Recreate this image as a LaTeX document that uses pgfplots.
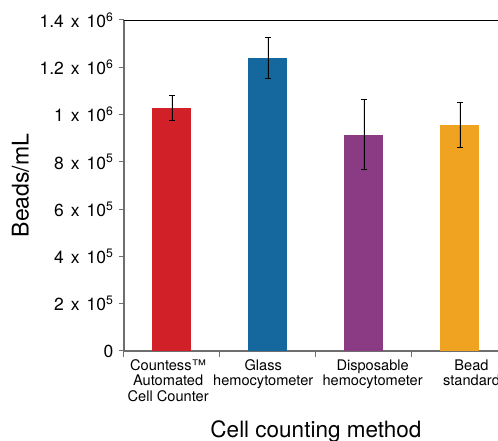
\documentclass[border=0pt]{standalone}
\usepackage{fontspec}
\setmainfont{TeX Gyre Heros}
\usepackage{pgfplots}
\pgfplotsset{compat=1.18}
\definecolor{cRed}{RGB}{209,32,39}
\definecolor{cBlue}{RGB}{20,104,157}
\definecolor{cPurple}{RGB}{139,59,131}
\definecolor{cOrange}{RGB}{240,162,33}
\definecolor{axgray}{RGB}{110,110,110}
\newcommand{\ytl}[2]{\mbox{#1\hspace{0.4em}x\hspace{0.4em}10\textsuperscript{#2}}}

\begin{document}
\begin{tikzpicture}
\begin{axis}[
  scale only axis,
  width=384pt, height=331pt,
  xmin=-0.5, xmax=3.5,
  ymin=0, ymax=1400000,
  axis lines*=left,
  axis line style={draw=axgray, line width=1.4pt},
  tick align=outside,
  tick style={draw=axgray, line width=1pt},
  major tick length=5pt,
  minor tick length=6pt,
  xtick={-0.04,0.95,2.09,3.12},
  major x tick style={draw=none},
  minor xtick={-0.5,0.5,1.5,2.5,3.5},
  xticklabels={Countess™\\Automated\\Cell Counter, Glass\\hemocytometer, Disposable\\hemocytometer, Bead\\standard},
  every x tick label/.append style={align=center, font=\fontsize{14.6}{15.3}\selectfont},
  ytick={0,200000,400000,600000,800000,1000000,1200000,1400000},
  yticklabels={0, \ytl{2}{5}, \ytl{4}{5}, \ytl{6}{5}, \ytl{8}{5}, \ytl{1}{6}, \ytl{1.2}{6}, \ytl{1.4}{6}},
  every y tick label/.append style={font=\fontsize{17.5}{19}\selectfont, xshift=-2pt},
  scaled y ticks=false,
  xlabel={Cell counting method},
  every axis x label/.style={at={(rel axis cs:0.5,0)}, anchor=base, yshift=-86pt, font=\fontsize{22.5}{24}\selectfont},
  ylabel={Beads/mL},
  every axis y label/.style={at={(rel axis cs:0,0.5)}, anchor=center, rotate=90, yshift=103.5pt, font=\fontsize{23}{25}\selectfont},
  ybar, bar width=39pt,
  error bars/error bar style={black, line width=0.9pt},
  error bars/error mark options={black, rotate=90, mark size=3pt, line width=0.9pt},
]
\addplot[fill=cRed, draw=none, bar shift=0pt, error bars/.cd, y dir=both, y explicit]
  coordinates {(0,1028000) +- (0,51000)};
\addplot[fill=cBlue, draw=none, bar shift=0pt, error bars/.cd, y dir=both, y explicit]
  coordinates {(1,1239000) +- (0,88000)};
\addplot[fill=cPurple, draw=none, bar shift=0pt, error bars/.cd, y dir=both, y explicit]
  coordinates {(2,914000) +- (0,148000)};
\addplot[fill=cOrange, draw=none, bar shift=0pt, error bars/.cd, y dir=both, y explicit]
  coordinates {(3,956000) +- (0,95000)};
\draw[black, line width=0.8pt] (rel axis cs:0,1) -- (rel axis cs:1,1);
\end{axis}
\pgfresetboundingbox
\path (-124pt,-90pt) rectangle (374pt,351pt);
\end{tikzpicture}
\end{document}
